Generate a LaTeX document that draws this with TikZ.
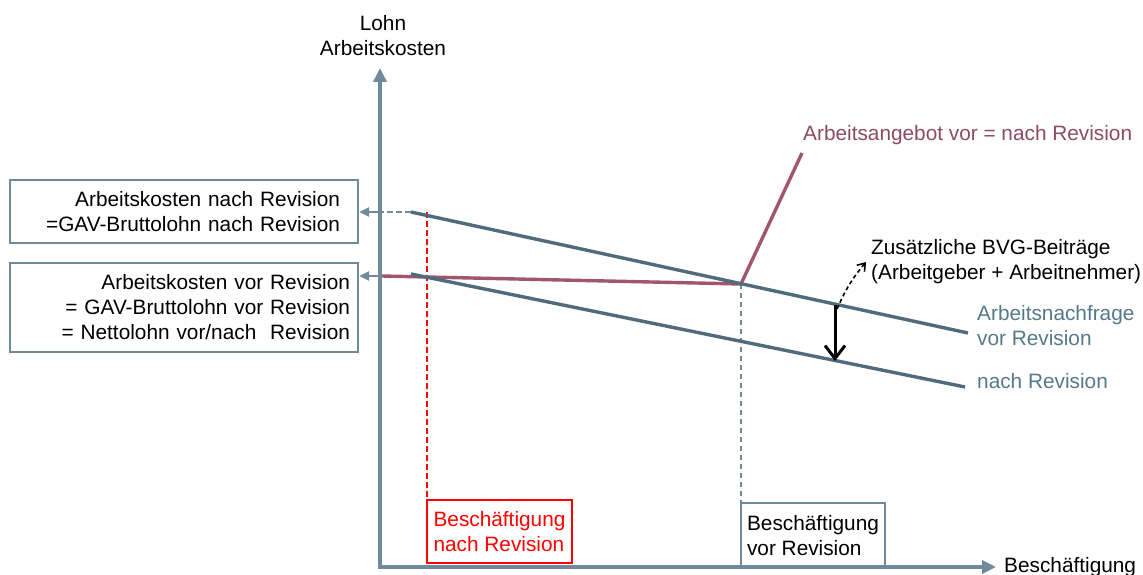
\documentclass[tikz,border=0pt]{standalone}
\usepackage{fontspec}
\setmainfont{Liberation Sans}
\usetikzlibrary{arrows.meta}
\definecolor{axisc}{HTML}{6E8A9C}
\definecolor{demc}{HTML}{4F6B7C}
\definecolor{supc}{HTML}{A0566F}
\definecolor{suptxt}{HTML}{8C4A64}
\definecolor{demtxt}{HTML}{55788A}
\begin{document}
\begin{tikzpicture}[x=1pt,y=-1pt,
  every node/.style={font=\fontsize{20.8}{25}\selectfont, inner sep=0pt},
  axisline/.style={axisc, line width=4, -{Triangle[length=14,width=13]}},
  demline/.style={demc, line width=3.4},
  supline/.style={supc, line width=3.4},
  grayframe/.style={draw=axisc, line width=2.2},
  toboxarrow/.style={axisc, line width=2.2, -{Triangle[length=10,width=9]}},
  reddash/.style={red, line width=2, dash pattern=on 6pt off 3pt},
  graydash/.style={axisc, line width=2, dash pattern=on 5pt off 4pt}]
\useasboundingbox (0,0) rectangle (1143,575);

% key points
\coordinate (d1a) at (411,212);
\coordinate (d1b) at (968,333);
\coordinate (d2a) at (411,274);
\coordinate (d2b) at (965,387);
\coordinate (s0) at (382,276);
\coordinate (E) at (741,284);
\coordinate (s2) at (802,153);
\coordinate (ax0) at (380,569);
\coordinate (ytop) at (380,68);
\coordinate (xs) at (378,567);
\coordinate (xend) at (996,567);
\coordinate (rtop) at (427,212);
\coordinate (axA) at (380,212);

% boxes
\node[grayframe, minimum width=348, minimum height=63, text width=312, align=right, inner xsep=18] (b1) at (184,211.5)
  {Arbeitskosten nach Revision\\=GAV-Bruttolohn nach Revision};
\node[grayframe, minimum width=348, minimum height=89, text width=332, align=right, inner xsep=8] (b2) at (184,307.5)
  {Arbeitskosten vor Revision\\= GAV-Bruttolohn vor Revision\\= Nettolohn vor/nach\ \ Revision};
\node[draw=red, line width=2.2, minimum width=145, minimum height=63, align=left, text=red] (nbox) at (499.5,531.5)
  {Besch\"aftigung\\nach Revision};
\node[grayframe, minimum width=144, minimum height=65, align=left] (vbox) at (813,535.5)
  {Besch\"aftigung\\vor Revision};

% axes
\draw[axisline] (ax0) -- (ytop);
\draw[axisline] (xs) -- (xend);
\node[anchor=base west] (xlab) at (1004,572) {Besch\"aftigung};
\node[align=center] (ylab) at (383,36) {Lohn\\Arbeitskosten};

% dashed verticals
\draw[reddash] (rtop) -- (rtop |- nbox.north);
\draw[graydash] (E) -- (E |- vbox.north);

% supply
\draw[supline, line join=round] (s0) -- (E) -- (s2);
% demand
\draw[demline] (d1a) -- (d1b);
\draw[demline] (d2a) -- (d2b);

% arrows to boxes
\draw[axisc, line width=2.2, dash pattern=on 6pt off 3pt] (d1a) -- (axA);
\draw[toboxarrow] (axA) -- (axA -| b1.east);
\draw[toboxarrow] (s0) -- (s0 -| b2.east);

% shift arrows
\coordinate (k1) at (835,305);
\coordinate (k2) at (835,361);
\coordinate (k3) at (866,262);
\draw[black, line width=3, -{Straight Barb[length=13,width=20]}] (k1) -- (k2);
\draw[black, line width=1.6, dash pattern=on 4pt off 3pt, -{Straight Barb[length=7,width=10]}] (837,309) to[bend left=8] (k3);

% labels
\node[anchor=base west, text=suptxt] (sl) at (803,140) {Arbeitsangebot vor = nach Revision};
\node[anchor=west, align=left] (bvg) at (871,262) {Zus\"atzliche BVG-Beitr\"age\\(Arbeitgeber + Arbeitnehmer)};
\node[anchor=west, align=left, text=demtxt] (dl1) at (977,326) {Arbeitsnachfrage\\vor Revision};
\node[anchor=base west, text=demtxt] (dl2) at (977,388) {nach Revision};
\end{tikzpicture}
\end{document}
